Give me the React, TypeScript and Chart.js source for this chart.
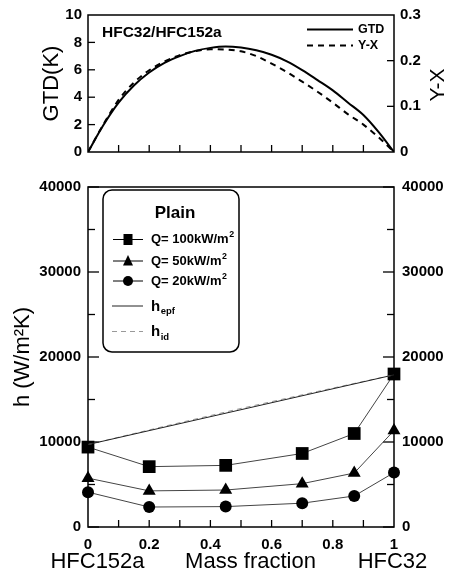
import { useEffect, useRef } from 'react';
import { Chart, registerables } from 'chart.js';

Chart.register(...registerables);

const FONT = "'Liberation Sans', Arial, Helvetica, sans-serif";

// Glide curves of the HFC32/HFC152a mixture (upper panel)
const glideFractions = [0, 0.05, 0.1, 0.15, 0.2, 0.25, 0.3, 0.35, 0.4, 0.45, 0.5, 0.55, 0.6, 0.65, 0.7, 0.75, 0.8, 0.85, 0.9, 0.95, 1];
const gtdValues = [0, 1.95, 3.6, 4.85, 5.8, 6.5, 7.0, 7.38, 7.6, 7.7, 7.62, 7.42, 7.1, 6.62, 5.98, 5.25, 4.5, 3.6, 2.7, 1.45, 0];
const yxValues = [0, 0.06, 0.114, 0.152, 0.179, 0.198, 0.212, 0.221, 0.225, 0.2245, 0.2205, 0.21, 0.1935, 0.175, 0.154, 0.132, 0.108, 0.0825, 0.06, 0.032, 0];

// Heat transfer coefficients, plain tube (lower panel)
const massFractions = [0, 0.2, 0.45, 0.7, 0.87, 1];
const hQ100 = [9400, 7100, 7250, 8650, 11000, 18000];
const hQ50 = [5750, 4250, 4350, 5100, 6350, 11350];
const hQ20 = [4100, 2350, 2400, 2800, 3650, 6400];
const hEpfFractions = [0, 1];
const hEpf = [9700, 17900];
const hIdFractions = [0, 0.25, 0.5, 0.75, 1];
const hId = [9700, 11850, 13950, 15950, 17900];

// Axis ticks
const gtdTicks = [0, 2, 4, 6, 8, 10];
const yxTicks = [0, 0.1, 0.2, 0.3];
const hTicks = [0, 10000, 20000, 30000, 40000];
const hMinorTicks = [5000, 15000, 25000, 35000];
const fractionTicks = [0, 0.2, 0.4, 0.6, 0.8, 1];
const fractionTickMarks = [0.1, 0.2, 0.3, 0.4, 0.5, 0.6, 0.7, 0.8, 0.9];

const tickFont = { family: FONT, size: 15, weight: 'bold' as const };
const noGrid = { display: false, drawTicks: false };

const fmtFraction = (v: number) => {
  const r = Math.round(v * 10) / 10;
  return r === 0 ? '0' : r === 1 ? '1' : r.toFixed(1);
};
const fmtPlain = (v: any) => String(Math.round(Number(v)));

type Mark = { scale: string; values: number[]; len: number; side: 'bottom' | 'left' | 'right' };

const framePlugin = (id: string, marks: Mark[]) => ({
  id,
  beforeDatasetsDraw(chart: any) {
    const { ctx, chartArea: a } = chart;
    ctx.save();
    ctx.strokeStyle = '#000';
    ctx.lineWidth = 1.5;
    ctx.strokeRect(a.left, a.top, a.right - a.left, a.bottom - a.top);
    ctx.lineWidth = 1.3;
    marks.forEach((m) => {
      const s = chart.scales[m.scale];
      m.values.forEach((v) => {
        const p = s.getPixelForValue(v);
        ctx.beginPath();
        if (m.side === 'bottom') {
          ctx.moveTo(p, a.bottom);
          ctx.lineTo(p, a.bottom - m.len);
        } else if (m.side === 'left') {
          ctx.moveTo(a.left, p);
          ctx.lineTo(a.left + m.len, p);
        } else {
          ctx.moveTo(a.right, p);
          ctx.lineTo(a.right - m.len, p);
        }
        ctx.stroke();
      });
    });
    ctx.restore();
  },
});

const glideTextPlugin = {
  id: 'glideText',
  afterDatasetsDraw(chart: any) {
    const { ctx } = chart;
    ctx.save();
    ctx.fillStyle = '#000';
    ctx.textBaseline = 'middle';
    ctx.textAlign = 'left';
    ctx.font = `bold 15.5px ${FONT}`;
    ctx.fillText('HFC32/HFC152a', 102, 33);

    // legend
    ctx.strokeStyle = '#000';
    ctx.lineWidth = 2;
    ctx.beginPath();
    ctx.moveTo(307, 29.5);
    ctx.lineTo(353, 29.5);
    ctx.stroke();
    ctx.setLineDash([6, 5]);
    ctx.beginPath();
    ctx.moveTo(307, 45.5);
    ctx.lineTo(353, 45.5);
    ctx.stroke();
    ctx.setLineDash([]);
    ctx.font = `bold 12.5px ${FONT}`;
    ctx.fillText('GTD', 358, 29.5);
    ctx.fillText('Y-X', 358, 45.5);

    // right axis title
    ctx.translate(438, 85);
    ctx.rotate(-Math.PI / 2);
    ctx.textAlign = 'center';
    ctx.font = `21px ${FONT}`;
    ctx.fillText('Y-X', 0, 0);
    ctx.restore();
  },
};

const supText = (ctx: CanvasRenderingContext2D, base: string, sup: string, x: number, y: number, size: number) => {
  ctx.font = `bold ${size}px ${FONT}`;
  ctx.fillText(base, x, y);
  const w = ctx.measureText(base).width;
  ctx.font = `bold ${size * 0.68}px ${FONT}`;
  ctx.fillText(sup, x + w + 0.5, y - size * 0.35);
};

const hTextPlugin = {
  id: 'hText',
  afterDatasetsDraw(chart: any) {
    const { ctx } = chart;
    ctx.save();
    ctx.fillStyle = '#000';
    ctx.strokeStyle = '#000';

    // axis captions under the x axis
    ctx.font = `22px ${FONT}`;
    ctx.textAlign = 'center';
    ctx.textBaseline = 'alphabetic';
    ctx.fillText('HFC152a', 97.5, 398);
    ctx.fillText('Mass fraction', 250.5, 398);
    ctx.fillText('HFC32', 392.5, 398);

    // legend box
    const bx = 103, by = 20, bw = 136, bh = 162, r = 9;
    ctx.lineWidth = 1.5;
    ctx.beginPath();
    ctx.moveTo(bx + r, by);
    ctx.arcTo(bx + bw, by, bx + bw, by + bh, r);
    ctx.arcTo(bx + bw, by + bh, bx, by + bh, r);
    ctx.arcTo(bx, by + bh, bx, by, r);
    ctx.arcTo(bx, by, bx + bw, by, r);
    ctx.closePath();
    ctx.stroke();

    ctx.font = `bold 17px ${FONT}`;
    ctx.textBaseline = 'middle';
    ctx.fillText('Plain', 175, 43.5);

    ctx.textAlign = 'left';
    const rows = [69.5, 91, 111];
    ctx.lineWidth = 1;
    rows.forEach((y) => {
      ctx.beginPath();
      ctx.moveTo(113, y);
      ctx.lineTo(143, y);
      ctx.stroke();
    });
    // square
    ctx.fillRect(123.5, rows[0] - 5.5, 9, 11);
    // triangle
    ctx.beginPath();
    ctx.moveTo(128, rows[1] - 6);
    ctx.lineTo(133, rows[1] + 4.5);
    ctx.lineTo(123, rows[1] + 4.5);
    ctx.closePath();
    ctx.fill();
    // circle
    ctx.beginPath();
    ctx.ellipse(128, rows[2], 5, 5, 0, 0, Math.PI * 2);
    ctx.fill();

    ctx.textBaseline = 'middle';
    supText(ctx, 'Q= 100kW/m', '2', 151, rows[0], 13);
    supText(ctx, 'Q= 50kW/m', '2', 151, rows[1], 13);
    supText(ctx, 'Q= 20kW/m', '2', 151, rows[2], 13);

    // correlation lines
    ctx.lineWidth = 1;
    ctx.strokeStyle = '#222';
    ctx.beginPath();
    ctx.moveTo(112, 136);
    ctx.lineTo(143, 136);
    ctx.stroke();
    ctx.strokeStyle = '#999';
    ctx.setLineDash([5, 4]);
    ctx.beginPath();
    ctx.moveTo(112, 161.5);
    ctx.lineTo(143, 161.5);
    ctx.stroke();
    ctx.setLineDash([]);

    ctx.textBaseline = 'alphabetic';
    const sub = (label: string, y: number) => {
      ctx.font = `bold 15px ${FONT}`;
      ctx.fillText('h', 151, y);
      const w = ctx.measureText('h').width;
      ctx.font = `bold 9.5px ${FONT}`;
      ctx.fillText(label, 151 + w + 0.5, y + 3.5);
    };
    sub('epf', 140.5);
    sub('id', 166);
    ctx.restore();
  },
};

function GlideChart() {
  const ref = useRef<HTMLCanvasElement>(null);
  useEffect(() => {
    const chart = new Chart(ref.current!, {
      type: 'line',
      data: {
        datasets: [
          {
            label: 'GTD',
            data: glideFractions.map((x, i) => ({ x, y: gtdValues[i] })),
            yAxisID: 'y',
            borderColor: '#000',
            borderWidth: 2,
            pointRadius: 0,
            cubicInterpolationMode: 'monotone',
          },
          {
            label: 'Y-X',
            data: glideFractions.map((x, i) => ({ x, y: yxValues[i] })),
            yAxisID: 'y2',
            borderColor: '#000',
            borderWidth: 2,
            borderDash: [6, 5],
            pointRadius: 0,
            cubicInterpolationMode: 'monotone',
          },
        ],
      },
      options: {
        animation: false,
        responsive: false,
        devicePixelRatio: 1,
        events: [],
        layout: { padding: { top: 12, left: 0, right: 0, bottom: 0 } },
        plugins: { legend: { display: false }, tooltip: { enabled: false } },
        scales: {
          x: {
            type: 'linear',
            min: 0,
            max: 1,
            grid: noGrid,
            border: { display: false },
            ticks: { display: false },
            afterFit: (s: any) => { s.height = 18; },
          },
          y: {
            position: 'left',
            min: 0,
            max: 10,
            grid: noGrid,
            border: { display: false },
            afterBuildTicks: (s: any) => { s.ticks = gtdTicks.map((value) => ({ value })); },
            ticks: { color: '#000', font: tickFont, padding: 6, callback: fmtPlain },
            title: {
              display: true,
              text: 'GTD(K)',
              color: '#000',
              font: { family: FONT, size: 22, lineHeight: 1 },
              padding: { top: 41, bottom: 0 },
            },
            afterFit: (s: any) => { s.width = 88; },
          },
          y2: {
            position: 'right',
            min: 0,
            max: 0.3,
            grid: noGrid,
            border: { display: false },
            afterBuildTicks: (s: any) => { s.ticks = yxTicks.map((value) => ({ value })); },
            ticks: {
              color: '#000',
              font: tickFont,
              padding: 6,
              callback: (v: any) => (Number(v) === 0 ? '0' : Number(v).toFixed(1)),
            },
            afterFit: (s: any) => { s.width = 55; },
          },
        },
      } as any,
      plugins: [
        framePlugin('glideFrame', [
          { scale: 'x', values: fractionTickMarks, len: 7, side: 'bottom' },
          { scale: 'y', values: [2, 4, 6, 8], len: 7, side: 'left' },
          { scale: 'y2', values: [0.1, 0.2], len: 7, side: 'right' },
        ]),
        glideTextPlugin,
      ],
    });
    return () => chart.destroy();
  }, []);
  return (
    <canvas
      ref={ref}
      width={449}
      height={170}
      style={{ position: 'absolute', left: 0, top: 0, width: 449, height: 170 }}
    />
  );
}

function HeatTransferChart() {
  const ref = useRef<HTMLCanvasElement>(null);
  useEffect(() => {
    const series = (label: string, values: number[], style: string, radius: number) => ({
      label,
      data: massFractions.map((x, i) => ({ x, y: values[i] })),
      borderColor: '#444',
      borderWidth: 1,
      pointStyle: style,
      pointRadius: radius,
      pointBackgroundColor: '#000',
      pointBorderColor: '#000',
      pointBorderWidth: 0,
      clip: false,
    });
    const chart = new Chart(ref.current!, {
      type: 'line',
      data: {
        datasets: [
          {
            label: 'h_epf',
            data: hEpfFractions.map((x, i) => ({ x, y: hEpf[i] })),
            borderColor: '#222',
            borderWidth: 1,
            pointRadius: 0,
          },
          {
            label: 'h_id',
            data: hIdFractions.map((x, i) => ({ x, y: hId[i] })),
            borderColor: '#999',
            borderWidth: 1,
            borderDash: [5, 4],
            pointRadius: 0,
          },
          series('Q= 100kW/m²', hQ100, 'rect', 9),
          series('Q= 50kW/m²', hQ50, 'triangle', 7.5),
          series('Q= 20kW/m²', hQ20, 'circle', 6),
        ],
      },
      options: {
        animation: false,
        responsive: false,
        devicePixelRatio: 1,
        events: [],
        layout: { padding: { top: 12, left: 0, right: 0, bottom: 0 } },
        plugins: { legend: { display: false }, tooltip: { enabled: false } },
        scales: {
          x: {
            type: 'linear',
            min: 0,
            max: 1,
            grid: noGrid,
            border: { display: false },
            afterBuildTicks: (s: any) => { s.ticks = fractionTicks.map((value) => ({ value })); },
            ticks: { color: '#000', font: tickFont, padding: 9, maxRotation: 0, callback: (v: any) => fmtFraction(Number(v)) },
            afterFit: (s: any) => { s.height = 49; },
          },
          y: {
            position: 'left',
            min: 0,
            max: 40000,
            grid: noGrid,
            border: { display: false },
            afterBuildTicks: (s: any) => { s.ticks = hTicks.map((value) => ({ value })); },
            ticks: { color: '#000', font: tickFont, padding: 7, callback: fmtPlain },
            title: {
              display: true,
              text: 'h (W/m²K)',
              color: '#000',
              font: { family: FONT, size: 22, lineHeight: 1 },
              padding: { top: 12, bottom: 0 },
            },
            afterFit: (s: any) => { s.width = 88; },
          },
          y2: {
            position: 'right',
            min: 0,
            max: 40000,
            grid: noGrid,
            border: { display: false },
            afterBuildTicks: (s: any) => { s.ticks = hTicks.map((value) => ({ value })); },
            ticks: { color: '#000', font: tickFont, padding: 8, callback: fmtPlain },
            afterFit: (s: any) => { s.width = 55; },
          },
        },
      } as any,
      plugins: [
        framePlugin('hFrame', [
          { scale: 'x', values: fractionTickMarks, len: 7, side: 'bottom' },
          { scale: 'y', values: hTicks, len: 11, side: 'left' },
          { scale: 'y', values: hMinorTicks, len: 7, side: 'left' },
          { scale: 'y2', values: hTicks, len: 11, side: 'right' },
          { scale: 'y2', values: hMinorTicks, len: 7, side: 'right' },
        ]),
        hTextPlugin,
      ],
    });
    return () => chart.destroy();
  }, []);
  return (
    <canvas
      ref={ref}
      width={449}
      height={406}
      style={{ position: 'absolute', left: 0, top: 170, width: 449, height: 406 }}
    />
  );
}

export default function App() {
  return (
    <div style={{ position: 'fixed', left: 0, top: 0, width: 449, height: 576, background: '#fff' }}>
      <GlideChart />
      <HeatTransferChart />
    </div>
  );
}
